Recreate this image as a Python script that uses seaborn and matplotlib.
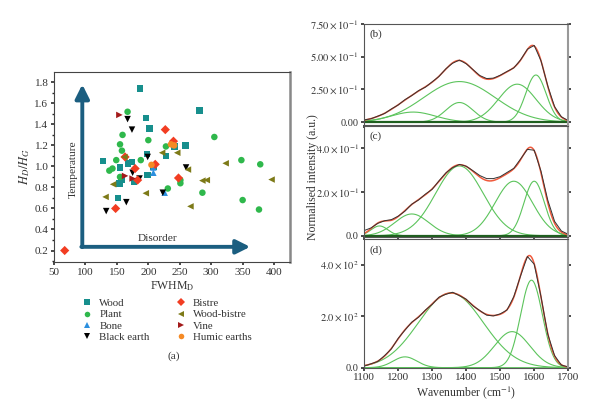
import numpy as np
import pandas as pd
import seaborn as sns
import matplotlib.pyplot as plt
from matplotlib.lines import Line2D

sns.set_theme(style='ticks')
plt.rcParams['font.family'] = ['Liberation Serif', 'DejaVu Serif']
plt.rcParams['mathtext.fontset'] = 'stix'

# ---- (a) scatter: FWHM_D vs H_D/H_G ----
wood_x = [187, 281, 196, 202, 198, 259, 242, 228, 128, 168, 174, 155, 199, 157, 177, 154, 152, 208]
wood_y = [1.74, 1.53, 1.46, 1.36, 1.12, 1.20, 1.19, 1.10, 1.05, 1.03, 1.04, 0.99, 0.92, 0.87, 0.85, 0.84, 0.70, 1.00]
plant_x = [167, 159, 155, 158, 200, 228, 305, 149, 143, 138, 188, 155, 231, 251, 251, 286, 348, 350, 378, 376]
plant_y = [1.52, 1.30, 1.21, 1.15, 1.25, 1.19, 1.28, 1.06, 0.98, 0.96, 1.06, 0.90, 0.79, 0.87, 0.84, 0.75, 1.06, 0.68, 1.02, 0.59]
bone_x = [208, 208, 226]
bone_y = [0.99, 0.94, 0.75]
black_x = [167, 174, 175, 186, 199, 260, 223, 133, 165]
black_y = [1.45, 1.35, 0.94, 0.885, 1.09, 0.99, 0.75, 0.575, 0.66]
bistre_x = [227, 240, 211, 179, 183, 148, 67, 248, 163]
bistre_y = [1.35, 1.24, 1.02, 0.98, 0.87, 0.60, 0.20, 0.89, 1.09]
woodbistre_x = [222, 246, 263, 323, 286, 293, 396, 267, 196, 132, 144, 162]
woodbistre_y = [1.13, 1.13, 0.97, 1.03, 0.865, 0.87, 0.875, 0.62, 0.745, 0.71, 0.83, 1.09]
vine_x = [154, 163, 175]
vine_y = [1.49, 0.91, 0.885]
humic_x = [236, 241, 205]
humic_y = [1.21, 1.20, 1.015]

groups = ['Wood', 'Plant', 'Bone', 'Black earth', 'Bistre', 'Wood-bistre', 'Vine', 'Humic earths']
xs = [wood_x, plant_x, bone_x, black_x, bistre_x, woodbistre_x, vine_x, humic_x]
ys = [wood_y, plant_y, bone_y, black_y, bistre_y, woodbistre_y, vine_y, humic_y]
colors = {'Wood': '#178f8d', 'Plant': '#2fb84c', 'Bone': '#2b8fde', 'Black earth': '#000000',
          'Bistre': '#f23d22', 'Wood-bistre': '#7d7a18', 'Vine': '#a31a1a', 'Humic earths': '#f58a25'}
markers = {'Wood': 's', 'Plant': 'o', 'Bone': '^', 'Black earth': 'v',
           'Bistre': 'D', 'Wood-bistre': '<', 'Vine': '>', 'Humic earths': 'o'}

df = pd.concat([pd.DataFrame({'fwhm': x, 'ratio': y, 'group': g}) for g, x, y in zip(groups, xs, ys)])

# ---- (b)-(d) spectra: fitted peak parameters and measured readings ----
wn = list(range(1100, 1701, 20))
b_center = [1244, 1380, 1380, 1550, 1605]
b_height = [0.077, 0.31, 0.15, 0.29, 0.36]
b_width = [65, 105, 40, 55, 30]
b_meas = [0.017, 0.026, 0.046, 0.066, 0.101, 0.131, 0.172, 0.203, 0.241, 0.267, 0.308, 0.349, 0.407,
          0.450, 0.474, 0.446, 0.401, 0.356, 0.333, 0.336, 0.358, 0.387, 0.414, 0.476, 0.557, 0.586,
          0.468, 0.276, 0.118, 0.041, 0.012]
c_center = [1145, 1240, 1380, 1540, 1600]
c_height = [0.045, 0.10, 0.32, 0.25, 0.25]
c_width = [25, 50, 70, 55, 30]
c_meas = [0.024, 0.036, 0.057, 0.069, 0.074, 0.090, 0.113, 0.145, 0.164, 0.191, 0.213, 0.252, 0.288,
          0.312, 0.327, 0.319, 0.298, 0.276, 0.262, 0.262, 0.271, 0.290, 0.309, 0.352, 0.396, 0.392,
          0.296, 0.163, 0.066, 0.022, 0.007]
d_center = [1220, 1355, 1535, 1592]
d_height = [42, 290, 140, 340]
d_width = [35, 95, 52, 32]
d_meas = [6, 15, 24, 47, 73, 114, 146, 177, 196, 224, 246, 274, 285, 293, 280, 266, 240, 222, 204,
          201, 209, 224, 276, 357, 432, 402, 276, 130, 47, 10, 3]

fig = plt.figure(figsize=(6, 4.2), dpi=100)
txt_c = '#333333'

ax = fig.add_axes([0.09, 0.376, 0.393, 0.453])
sns.scatterplot(data=df, x='fwhm', y='ratio', hue='group', style='group', palette=colors,
                markers=markers, s=22, edgecolor='none', legend=False, ax=ax)
arrow_c = '#1b5e80'
ax.annotate('', xy=(95, 1.78), xytext=(95, 0.232),
            arrowprops=dict(arrowstyle='-|>,head_width=0.35,head_length=0.7', lw=2.8,
                            color=arrow_c, shrinkA=0, shrinkB=0))
ax.annotate('', xy=(362, 0.235), xytext=(93.5, 0.235),
            arrowprops=dict(arrowstyle='-|>,head_width=0.35,head_length=0.7', lw=2.8,
                            color=arrow_c, shrinkA=0, shrinkB=0))
ax.text(80, 0.97, 'Temperature', rotation=90, ha='center', va='center', fontsize=8.2, color=txt_c)
ax.text(215, 0.31, 'Disorder', ha='center', va='center', fontsize=8.2, color=txt_c)
ax.set_xlim(50, 425)
ax.set_ylim(0.09, 1.9)
ax.set_xticks(range(50, 401, 50))
ax.set_yticks(np.arange(0.2, 1.81, 0.2))
ax.set_yticks(np.arange(0.1, 1.9, 0.1), minor=True)
ax.yaxis.set_major_formatter(plt.FormatStrFormatter('%.1f'))
ax.tick_params(labelsize=8, length=2.5, pad=1.5, colors=txt_c)
ax.tick_params(which='minor', length=1.8)
ax.set_xlabel(r'FWHM$_\mathrm{D}$', fontsize=8.5, color=txt_c, labelpad=2)
ax.set_ylabel(r'$H_D/H_G$', fontsize=9, color=txt_c, labelpad=2)
for s in ax.spines.values():
    s.set_color('#444444')
    s.set_linewidth(0.8)
ax.spines['right'].set_color('#888888')
ax.spines['right'].set_linewidth(1.8)

handles = [Line2D([], [], marker=markers[g], color=colors[g], linestyle='none', markersize=4,
                  markeredgewidth=0) for g in groups]
fig.legend(handles, groups, loc='upper left', bbox_to_anchor=(0.122, 0.313), ncol=2, frameon=False,
           fontsize=7.8, handlelength=0.8, handletextpad=0.7, labelspacing=0.17, columnspacing=2.5,
           labelcolor=txt_c)
fig.text(0.289, 0.151, '(a)', ha='center', va='center', fontsize=8.2, color=txt_c)

# spectra panels
grid = np.arange(1100, 1701, 2)
panels = [
    ('(b)', b_center, b_height, b_width, b_meas, (0.702, 0.241), (-0.023, 0.75),
     [0, 0.25, 0.5, 0.75], ['0.00', r'$2.50\times10^{-1}$', r'$5.00\times10^{-1}$', r'$7.50\times10^{-1}$']),
    ('(c)', c_center, c_height, c_width, c_meas, (0.436, 0.264), (-0.005, 0.503),
     [0, 0.2, 0.4], ['0.0', r'$2.0\times10^{-1}$', r'$4.0\times10^{-1}$']),
    ('(d)', d_center, d_height, d_width, d_meas, (0.124, 0.307), (-1, 500),
     [0, 200, 400], ['0.0', r'$2.0\times10^{2}$', r'$4.0\times10^{2}$']),
]
for i, (lab, cen, hgt, wid, meas, box, ylim, yt, ytl) in enumerate(panels):
    sax = fig.add_axes([0.607, box[0], 0.34, box[1]])
    fit = np.zeros_like(grid, dtype=float)
    for c, h, w in zip(cen, hgt, wid):
        comp = h * np.exp(-0.5 * ((grid - c) / w) ** 2)
        fit += comp
        sax.plot(grid, comp, color='#5cc45c', lw=0.8)
    if i < 2:
        sax.axhline(0, color='#1f5f1f', lw=1.6)
    sns.lineplot(x=grid, y=fit, color='#f05a3c', lw=1.1, ax=sax)
    sns.lineplot(x=wn, y=meas, color='#333333', lw=0.7, ax=sax)
    sax.set_xlim(1100, 1700)
    sax.set_ylim(*ylim)
    sax.set_yticks(yt)
    sax.set_yticklabels(ytl)
    sax.set_xticks(range(1100, 1701, 100))
    sax.tick_params(labelsize=7.5, length=2.5, pad=1.5, colors=txt_c, right=True)
    sax.tick_params(axis='x', labelsize=8)
    if i < 2:
        sax.tick_params(labelbottom=False)
    for s in sax.spines.values():
        s.set_color('#555555')
        s.set_linewidth(0.8)
    sax.spines['right'].set_color('#999999')
    sax.spines['right'].set_linewidth(1.5)
    sax.text(0.025, 0.95, lab, transform=sax.transAxes, ha='left', va='top', fontsize=8, color=txt_c)
    if i == 2:
        sax.set_xlabel(r'Wavenumber (cm$^{-1}$)', fontsize=8.5, color=txt_c, labelpad=1.5)

fig.text(0.522, 0.579, 'Normalised intensity (a.u.)', rotation=90, ha='center', va='center',
         fontsize=8.5, color=txt_c)

fig.savefig('out.png', dpi=100)
